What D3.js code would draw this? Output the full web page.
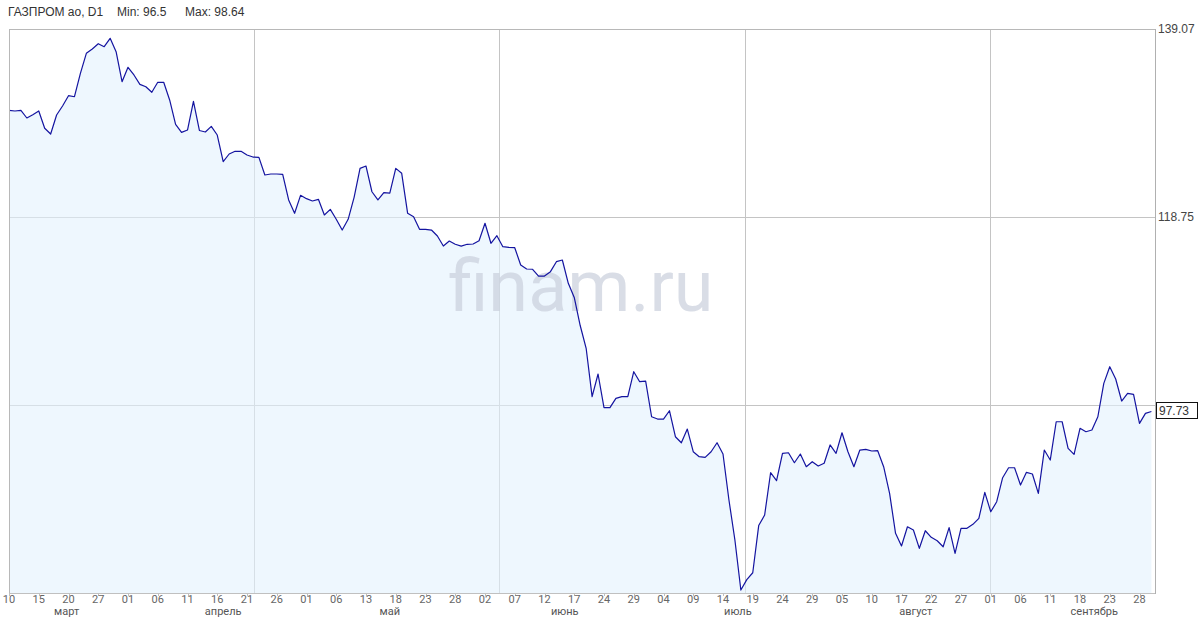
<!DOCTYPE html>
<html><head><meta charset="utf-8">
<script src="https://cdn.jsdelivr.net/npm/d3@7/dist/d3.min.js"></script>
<style>
html,body{margin:0;padding:0;background:#fff;}
svg{display:block;}
</style></head>
<body>
<svg id="c" width="1200" height="630"></svg>
<script>
// ---- data ----
const title = "ГАЗПРОМ ао, D1";
const minText = "Min: 96.5";
const maxText = "Max: 98.64";
const lastValue = 97.73;

const values = [
130.28,130.21,130.28,129.45,129.81,130.21,128.34,127.72,129.77,130.75,
131.86,131.75,134.28,136.44,136.91,137.48,137.16,138.06,136.62,133.37,
134.93,134.10,133.09,132.83,132.23,133.31,133.31,131.40,128.77,127.90,
128.15,131.26,128.10,127.94,128.55,127.61,124.73,125.56,125.85,125.85,
125.45,125.23,125.20,123.29,123.40,123.40,123.36,120.59,119.15,121.09,
120.73,120.48,120.66,118.97,119.58,118.50,117.34,118.50,120.88,124.01,
124.26,121.48,120.59,121.38,121.34,124.01,123.47,119.15,118.78,117.42,
117.42,117.34,116.70,115.61,116.15,115.80,115.61,115.80,115.83,116.19,
118.07,115.91,116.73,115.54,115.47,115.43,113.56,113.13,113.10,112.37,
112.37,112.84,113.92,114.10,111.58,110.05,107.02,104.56,99.33,101.78,
98.14,98.14,99.15,99.33,99.33,102.03,100.95,101.02,97.16,96.91,
96.91,97.81,95.00,94.35,95.83,93.38,92.84,92.77,93.38,94.35,
93.13,88.16,83.84,78.43,79.56,80.30,85.40,86.54,91.11,90.25,
93.21,93.27,92.19,93.13,91.76,92.30,91.83,92.13,94.11,93.21,
95.43,93.38,91.76,93.56,93.64,93.46,93.49,91.76,88.88,84.56,
83.19,85.27,84.92,82.94,84.84,84.13,83.76,83.11,85.17,82.40,
85.10,85.10,85.53,86.18,88.99,86.89,87.98,90.57,91.65,91.65,
89.78,91.15,90.97,88.88,93.56,92.48,96.62,96.62,93.75,93.10,
95.91,95.54,95.73,97.16,100.77,102.57,101.24,98.86,99.69,99.58,
96.45,97.53,97.73
];

// day tick labels, one every 5 points
const dayLabels = ["10","15","20","27","01","06","11","16","21","26",
  "01","06","13","18","23","28","02","07","12","17",
  "24","29","04","09","14","19","24","29","05","10",
  "17","22","27","01","06","11","18","23","28"];
const dayStep = 5;

const monthNames = ["март","апрель","май","июнь","июль","август","сентябрь"];
const monthAt = [9.7, 36, 64, 93.4, 122.5, 152.4, 182.4]; // point index where month label sits

const yTicks = [139.07, 118.75, 98.43];
const yLabelled = [139.07, 118.75];

// ---- layout ----
const L = 9, R = 1155, T = 29, B = 593;
const svg = d3.select("#c");

const x = d3.scaleLinear().domain([0, values.length - 1]).range([L, L + (values.length - 1) * 5.95]);
const y = d3.scaleLinear().domain([78.11, 139.07]).range([B, T]);

// horizontal grid
svg.append("g").selectAll("line").data(yTicks).join("line")
  .attr("x1", L).attr("x2", R)
  .attr("y1", d => Math.round(y(d)) + 0.5).attr("y2", d => Math.round(y(d)) + 0.5)
  .attr("stroke", "#c4c4c4").attr("stroke-width", 1);

// vertical grid (fixed spacing)
const vgrid = d3.range(1, 5).map(k => L + k * 245.2);
svg.append("g").selectAll("line").data(vgrid).join("line")
  .attr("x1", d => Math.round(d) + 0.5).attr("x2", d => Math.round(d) + 0.5)
  .attr("y1", T).attr("y2", B)
  .attr("stroke", "#c4c4c4").attr("stroke-width", 1);

// area
const area = d3.area().x((d, i) => x(i)).y0(B).y1(d => y(d));
svg.append("path").datum(values).attr("d", area)
  .attr("fill", "rgb(226,241,253)").attr("fill-opacity", 0.6);

// watermark
svg.append("text").attr("x", 581).attr("y", 311).attr("text-anchor", "middle")
  .attr("font-family", "Roboto, 'Open Sans', sans-serif").attr("font-size", 72)
  .attr("fill", "#c9cfdb").attr("fill-opacity", 0.7).text("finam.ru");

// line
const line = d3.line().x((d, i) => x(i)).y(d => y(d));
svg.append("path").datum(values).attr("d", line)
  .attr("fill", "none").attr("stroke", "#1414a0").attr("stroke-width", 1.2)
  .attr("stroke-linejoin", "round");

// frame
svg.append("line").attr("x1", L + 0.5).attr("x2", L + 0.5).attr("y1", T).attr("y2", B).attr("stroke", "#b8b8b8");
svg.append("line").attr("x1", L).attr("x2", R).attr("y1", T + 0.5).attr("y2", T + 0.5).attr("stroke", "#b8b8b8");
svg.append("line").attr("x1", R + 0.5).attr("x2", R + 0.5).attr("y1", T).attr("y2", B + 1).attr("stroke", "#b0b0b0");
svg.append("line").attr("x1", L).attr("x2", R).attr("y1", B + 0.5).attr("y2", B + 0.5).attr("stroke", "#c0c0c0");

// x axis day labels
const tickIdx = dayLabels.map((d, i) => i * dayStep);
svg.append("g").selectAll("line").data(tickIdx).join("line")
  .attr("x1", d => Math.round(x(d)) + 0.5).attr("x2", d => Math.round(x(d)) + 0.5)
  .attr("y1", B).attr("y2", B + 3).attr("stroke", "#c0c0c0");
svg.append("g").selectAll("text").data(dayLabels).join("text")
  .attr("x", (d, i) => x(i * dayStep)).attr("y", 603)
  .attr("text-anchor", "middle")
  .attr("font-family", "Roboto, sans-serif").attr("font-size", 11)
  .attr("fill", "#666").text(d => d);

// month labels
svg.append("g").selectAll("text").data(monthNames).join("text")
  .attr("x", (d, i) => x(monthAt[i])).attr("y", 615)
  .attr("text-anchor", "middle")
  .attr("font-family", "Roboto, sans-serif").attr("font-size", 11)
  .attr("fill", "#555").text(d => d);

// y labels
svg.append("g").selectAll("text").data(yLabelled).join("text")
  .attr("x", 1158).attr("y", d => y(d) + 4)
  .attr("font-family", "'Liberation Sans', Arial, sans-serif").attr("font-size", 12)
  .attr("fill", "#444").text(d => d.toFixed(2));

// last value box
const ly = y(lastValue);
svg.append("rect").attr("x", 1156.5).attr("y", Math.round(ly) - 8.5).attr("width", 41).attr("height", 16)
  .attr("fill", "#fff").attr("stroke", "#111").attr("stroke-width", 1);
svg.append("text").attr("x", 1159).attr("y", Math.round(ly) + 4)
  .attr("font-family", "'Liberation Sans', Arial, sans-serif").attr("font-size", 12)
  .attr("fill", "#333").text(lastValue.toFixed(2));

// title
const tg = svg.append("g").attr("font-family", "'Liberation Sans', Arial, sans-serif")
  .attr("font-size", 12).attr("fill", "#333");
tg.append("text").attr("x", 8).attr("y", 16).text(title);
tg.append("text").attr("x", 117).attr("y", 16).text(minText);
tg.append("text").attr("x", 185).attr("y", 16).text(maxText);
</script>
</body></html>
